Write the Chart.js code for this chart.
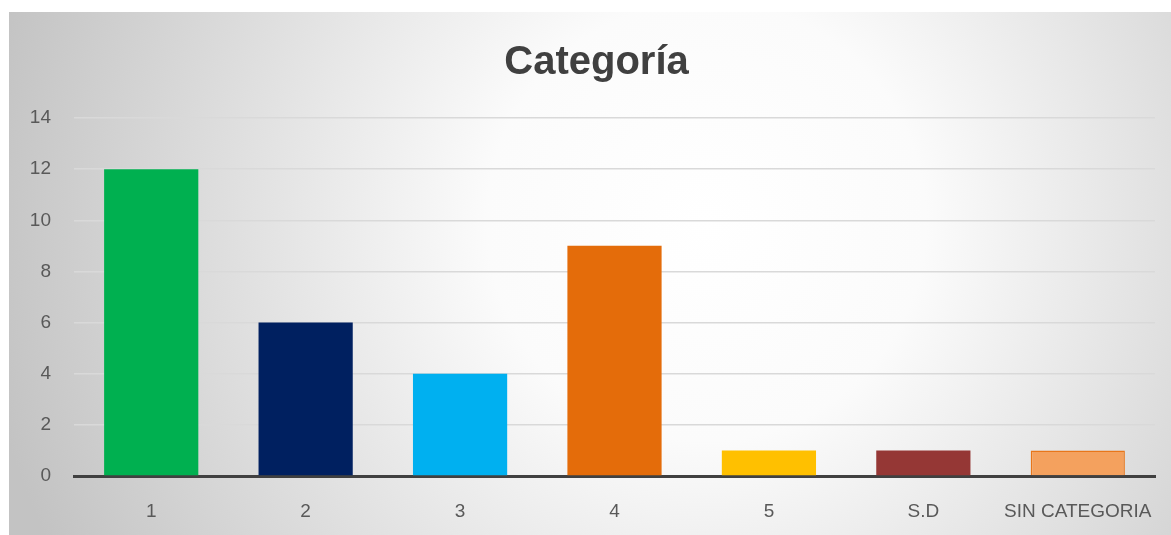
<!DOCTYPE html>
<html>
<head>
<meta charset="utf-8">
<script src="https://cdn.jsdelivr.net/npm/chart.js@4.4.1/dist/chart.umd.min.js"></script>
<style>
  body { margin: 0; background: #fff; }
  #wrap { position: absolute; left: 9px; top: 12px; width: 1162px; height: 523px; }
</style>
</head>
<body>
<div id="wrap"><canvas id="grafico"></canvas></div>
<script>
// datos
const categorias = ["1", "2", "3", "4", "5", "S.D", "SIN CATEGORIA"]
const valores = [12, 6, 4, 9, 1, 1, 1]
const colores = ["#00B050", "#002060", "#00B0F0", "#E46C0A", "#FFC000", "#953735", "#F4A15E"]
const bordes = ["#00B050", "#002060", "#00B0F0", "#E46C0A", "#FFC000", "#953735", "#E8761A"]
const ticksY = [0, 2, 4, 6, 8, 10, 12, 14]

// fondo con degradado radial
const fondo = {
    id: "fondo",
    beforeDraw(chart) {
        const ctx = chart.ctx
        const w = chart.width, h = chart.height
        const g = ctx.createRadialGradient(w * 0.6, h * 0.4, 0, w * 0.6, h * 0.4, w * 0.63)
        g.addColorStop(0, "#ffffff")
        g.addColorStop(0.3, "#fbfbfb")
        g.addColorStop(1, "#c3c3c3")
        ctx.save()
        ctx.fillStyle = g
        ctx.fillRect(0, 0, w, h)
        ctx.restore()
    }
}

const grafico = document.getElementById("grafico")

new Chart(grafico, {
    type: "bar",
    data: {
        labels: categorias,
        datasets: [{
            data: valores,
            backgroundColor: colores,
            borderColor: bordes,
            borderWidth: [0, 0, 0, 0, 0, 0, 1.5],
            categoryPercentage: 1,
            barPercentage: 0.61
        }]
    },
    options: {
        responsive: true,
        maintainAspectRatio: false,
        animation: false,
        layout: { padding: { left: 13, right: 0, top: 0, bottom: 0 } },
        plugins: {
            legend: { display: false },
            tooltip: { enabled: false },
            title: {
                display: true,
                text: "Categoría",
                color: "#404040",
                font: { family: "Liberation Sans", size: 40, weight: "bold" },
                padding: { top: 27, bottom: 31 }
            }
        },
        scales: {
            x: {
                grid: { display: false },
                border: { color: "#404040", width: 3 },
                ticks: {
                    color: "#595959",
                    font: { family: "Liberation Sans", size: 19 },
                    padding: 16,
                    maxRotation: 0
                },
                afterFit: (s) => { s.height = 59 }
            },
            y: {
                min: 0,
                max: 14,
                afterBuildTicks: (s) => { s.ticks = ticksY.map(v => ({ value: v })) },
                grid: { color: "#d9d9d9", lineWidth: 1.5, drawTicks: false },
                border: { display: false },
                ticks: {
                    color: "#595959",
                    font: { family: "Liberation Sans", size: 19 },
                    padding: 23
                },
                afterFit: (s) => { s.width = 52 }
            },
            derecha: {
                position: "right",
                min: 0,
                max: 14,
                grid: { display: false },
                border: { display: false },
                ticks: { display: false },
                afterFit: (s) => { s.width = 16 }
            }
        }
    },
    plugins: [fondo]
})
</script>
</body>
</html>
